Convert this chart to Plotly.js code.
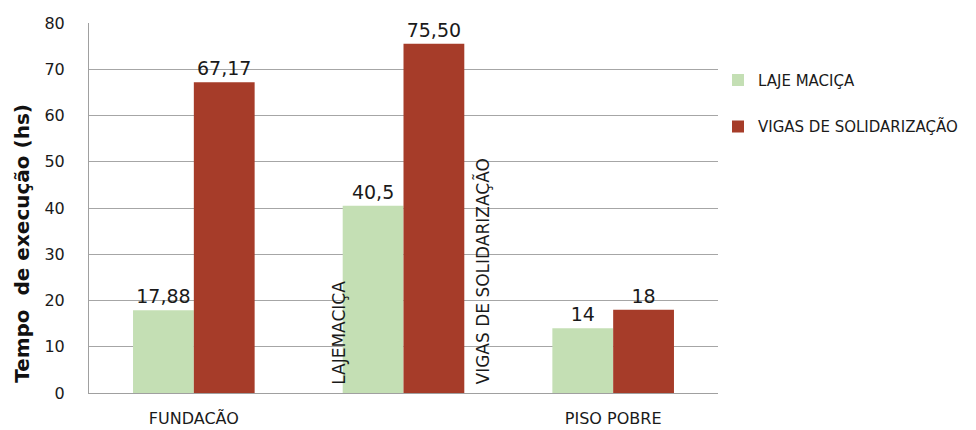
<!DOCTYPE html>
<html>
<head>
<meta charset="utf-8">
<script src="https://cdn.plot.ly/plotly-3.0.1.min.js"></script>
<style>html,body{margin:0;padding:0;background:#fff;}#chart{width:976px;height:430px;}</style>
</head>
<body>
<div id="chart"></div>
<script>
const categories = ["FUNDACÃO", "MEIO", "PISO POBRE"];
const tickLabels = ["FUNDACÃO", "", "PISO POBRE"];
const seriesNames = ["LAJE MACIÇA", "VIGAS DE SOLIDARIZAÇÃO"];
const lajeValues = [17.88, 40.5, 14];
const lajeLabels = ["17,88", "40,5", "14"];
const vigasValues = [67.17, 75.5, 18];
const vigasLabels = ["67,17", "75,50", "18"];
const yTicks = [0, 10, 20, 30, 40, 50, 60, 70, 80];

const font = "DejaVu Sans, Verdana, sans-serif";
const traces = [
  {type: "bar", name: seriesNames[0], x: categories, y: lajeValues, text: lajeLabels,
   textposition: "outside", cliponaxis: false, legendgroup: "a",
   textfont: {family: font, size: 19, color: "#1a1a1a"},
   marker: {color: "#c4dfb4"}},
  {type: "bar", name: seriesNames[1], x: categories, y: vigasValues, text: vigasLabels,
   textposition: "outside", cliponaxis: false, legendgroup: "b",
   textfont: {family: font, size: 19, color: "#1a1a1a"},
   marker: {color: "#a63c29"}}
];

const layout = {
  width: 976, height: 430,
  margin: {l: 89, r: 258, t: 23, b: 37},
  paper_bgcolor: "#fff", plot_bgcolor: "#fff",
  barmode: "group", bargap: 0.42, bargroupgap: 0,
  font: {family: font, color: "#1a1a1a"},
  xaxis: {
    type: "category", tickvals: categories, ticktext: tickLabels,
    showgrid: false, showline: true, linecolor: "#a0a0a0", linewidth: 1,
    ticks: "", ticklabelstandoff: 11, tickfont: {size: 16, color: "#1a1a1a"}, fixedrange: true
  },
  yaxis: {
    range: [0, 80], tickvals: yTicks, showgrid: true, gridcolor: "#a6a6a6", gridwidth: 1,
    showline: true, linecolor: "#a0a0a0", linewidth: 1, zeroline: false,
    ticks: "", ticklabelstandoff: 20, tickfont: {size: 16, color: "#1a1a1a"}
  },
  legend: {
    x: 1.0, y: 0.89, xanchor: "left", yanchor: "top",
    font: {size: 15, color: "#1a1a1a"}, tracegroupgap: 24,
    traceorder: "grouped", itemwidth: 30
  },
  showlegend: true,
  annotations: [
    {text: "Tempo  de execução (hs)", textangle: -90, xref: "paper", yref: "paper",
     x: -0.107, y: 0.405, xanchor: "center", yanchor: "middle", showarrow: false,
     font: {size: 20, color: "#111", family: font, weight: "bold"}},
    {text: "LAJEMACIÇA", textangle: -90, xref: "x", yref: "y", x: 0.692, y: 13,
     showarrow: false, font: {size: 17, color: "#1a1a1a"}},
    {text: "VIGAS DE SOLIDARIZAÇÃO", textangle: -90, xref: "x", yref: "y", x: 1.375, y: 26.3,
     showarrow: false, font: {size: 17, color: "#1a1a1a"}}
  ]
};

Plotly.newPlot("chart", traces, layout, {displayModeBar: false, staticPlot: true});
</script>
</body>
</html>
